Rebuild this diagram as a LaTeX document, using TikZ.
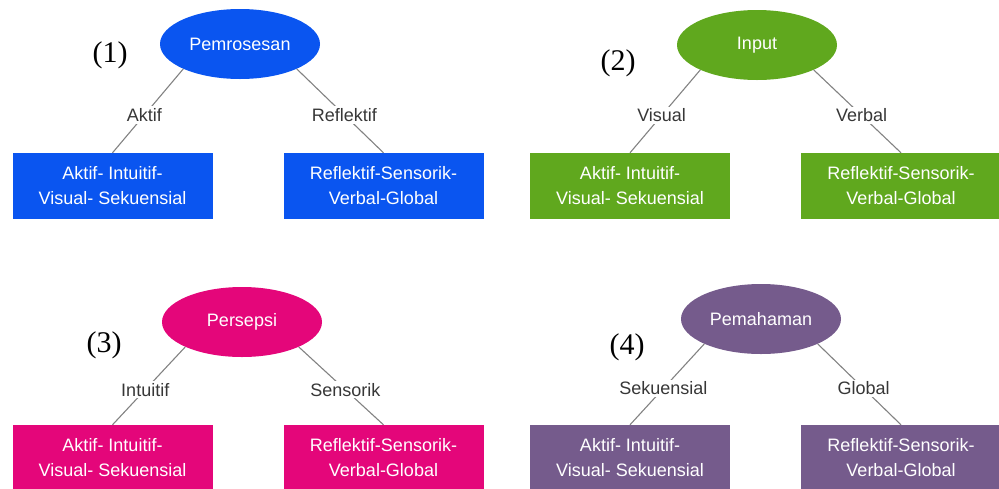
\documentclass[tikz,border=0pt]{standalone}
\usepackage{fontspec}
\setmainfont{Liberation Sans}
\newfontfamily\numfont{Liberation Serif}
\usepackage{xcolor}
\usepackage{tikz}
\usetikzlibrary{shapes.geometric}

\definecolor{pblue}{RGB}{10,85,240}
\definecolor{pgreen}{RGB}{96,168,30}
\definecolor{pmagenta}{RGB}{228,6,122}
\definecolor{ppurple}{RGB}{117,91,140}
\definecolor{lgray}{RGB}{130,130,130}
\definecolor{ltext}{RGB}{55,55,55}

\tikzset{
  root/.style={ellipse,minimum width=160pt,minimum height=70pt,text=white,font=\fontsize{18}{20}\selectfont},
  leaf/.style={rectangle,minimum width=200pt,minimum height=66pt,align=center,text=white,font=\fontsize{18}{25}\selectfont},
  lbl/.style={fill=white,text=ltext,inner sep=2pt,pos=0.55,font=\fontsize{18}{20}\selectfont},
  link/.style={draw=lgray,line width=1.1pt},
  num/.style={font=\numfont\fontsize{30}{32}\selectfont}
}

\begin{document}
\begin{tikzpicture}[x=1pt,y=-1pt,node distance=271pt,inner sep=0pt]
\useasboundingbox (0,0) rectangle (999,488);

\node[root,fill=pblue] (E1) at (240,44) {Pemrosesan};
\node[leaf,fill=pblue] (L1) at (112.5,186) {Aktif- Intuitif-\\Visual- Sekuensial};
\node[leaf,fill=pblue] (R1) [right of = L1] {Reflektif-Sensorik-\\Verbal-Global};
\node[num] (N1) at (110,55) {(1)};
\path (E1.south west) edge [link] node[lbl] {Aktif} (L1.north);
\path (E1.south east) edge [link] node[lbl] {Reflektif} (R1.north);

\node[root,fill=pgreen] (E2) at (757,45) {Input};
\node[leaf,fill=pgreen] (L2) at (630,186) {Aktif- Intuitif-\\Visual- Sekuensial};
\node[leaf,fill=pgreen] (R2) [right of = L2] {Reflektif-Sensorik-\\Verbal-Global};
\node[num] (N2) at (618,63) {(2)};
\path (E2.south west) edge [link] node[lbl] {Visual} (L2.north);
\path (E2.south east) edge [link] node[lbl] {Verbal} (R2.north);

\node[root,fill=pmagenta] (E3) at (242,322) {Persepsi};
\node[leaf,fill=pmagenta] (L3) at (112.5,458) {Aktif- Intuitif-\\Visual- Sekuensial};
\node[leaf,fill=pmagenta] (R3) [right of = L3] {Reflektif-Sensorik-\\Verbal-Global};
\node[num] (N3) at (104,345) {(3)};
\path (E3.south west) edge [link] node[lbl] {Intuitif} (L3.north);
\path (E3.south east) edge [link] node[lbl] {Sensorik} (R3.north);

\node[root,fill=ppurple] (E4) at (761,319) {Pemahaman};
\node[leaf,fill=ppurple] (L4) at (630,458) {Aktif- Intuitif-\\Visual- Sekuensial};
\node[leaf,fill=ppurple] (R4) [right of = L4] {Reflektif-Sensorik-\\Verbal-Global};
\node[num] (N4) at (627,347) {(4)};
\path (E4.south west) edge [link] node[lbl] {Sekuensial} (L4.north);
\path (E4.south east) edge [link] node[lbl] {Global} (R4.north);
\end{tikzpicture}
\end{document}
